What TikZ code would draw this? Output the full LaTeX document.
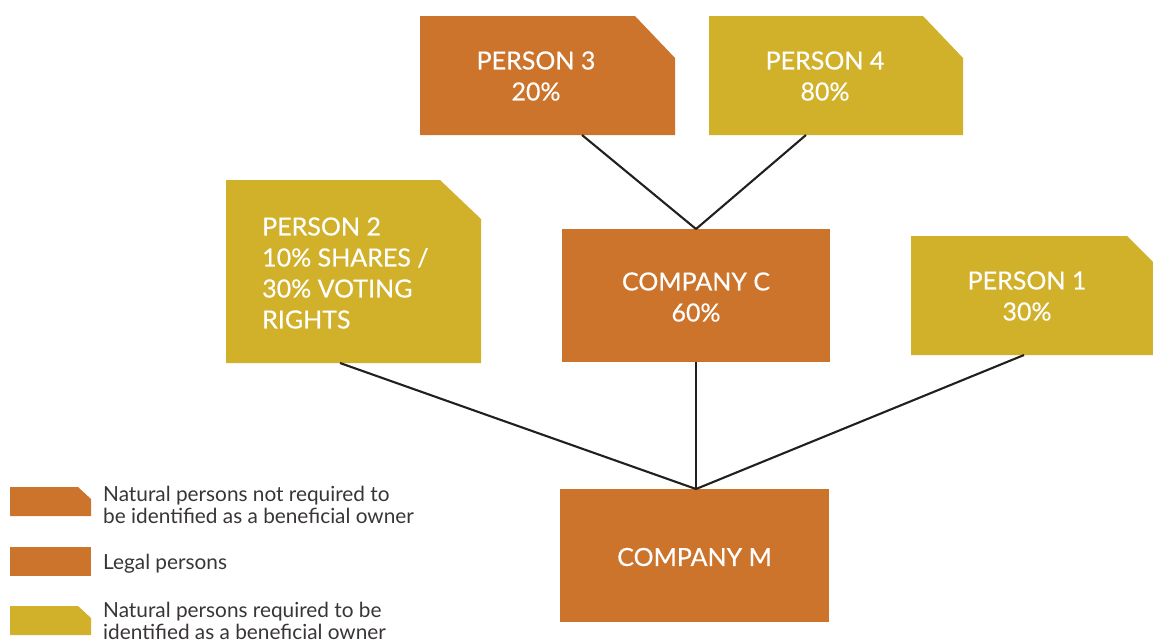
\documentclass[tikz,border=0pt]{standalone}
\usepackage{fontspec}
\setmainfont{Lato}
\newfontfamily\boxfont[FakeBold=0.4]{Lato}
\definecolor{orgc}{HTML}{CC742C}
\definecolor{ylwc}{HTML}{D1B02A}
\definecolor{linec}{HTML}{231F20}
\begin{document}
\begin{tikzpicture}[x=1pt,y=-1pt,
  shapebox/.style={draw=none,fill=none,inner sep=0pt,outer sep=0pt},
  boxtext/.style={text=white,align=center,inner sep=0pt,font=\boxfont\fontsize{25}{31}\selectfont},
  legtext/.style={text=linec!90,align=left,inner sep=0pt,anchor=base west,font=\fontsize{20.8}{22}\selectfont},
  conn/.style={draw=linec,line width=2.1pt}]
\useasboundingbox (0,0) rectangle (1153,641);
\newcommand{\chamferfill}[4]{\fill[#2] (#1.north west) -- ([xshift=-#3]#1.north east) -- ([yshift=-#4]#1.north east) -- (#1.south east) -- (#1.south west) -- cycle;}
% boxes
\node[shapebox,minimum width=255pt,minimum height=119pt] (p3) at (547.5,75.5) {};
\chamferfill{p3}{orgc}{40pt}{42pt}
\node[boxtext] (p3t) at (536,76) {PERSON 3\\20\%};
\node[shapebox,minimum width=254pt,minimum height=119pt] (p4) at (836,75.5) {};
\chamferfill{p4}{ylwc}{40pt}{42pt}
\node[boxtext] (p4t) at (825,76) {PERSON 4\\80\%};
\node[shapebox,minimum width=255pt,minimum height=183pt] (p2) at (353.5,271.5) {};
\chamferfill{p2}{ylwc}{41pt}{39pt}
\node[boxtext,align=left,anchor=west] (p2t) at (262,273) {PERSON 2\\10\% SHARES /\\30\% VOTING\\RIGHTS};
\node[shapebox,minimum width=268pt,minimum height=133pt] (cc) at (696,295.5) {};
\fill[orgc] (cc.north west) rectangle (cc.south east);
\node[boxtext] (cct) at (696,297) {COMPANY C\\60\%};
\node[shapebox,minimum width=255pt,minimum height=119pt] (p1) at (1038.5,295.5) {};
\chamferfill{p1}{ylwc}{39pt}{39pt}
\node[boxtext] (p1t) at (1027,296) {PERSON 1\\30\%};
\node[shapebox,minimum width=269pt,minimum height=133pt] (cm) at (694.5,555.5) {};
\fill[orgc] (cm.north west) rectangle (cm.south east);
\node[boxtext] (cmt) at (694.5,557) {COMPANY M};
% connectors
\draw[conn] ([xshift=34.5pt]p3.south) -- (cc.north);
\draw[conn] ([xshift=-30pt]p4.south) -- (cc.north);
\draw[conn] ([xshift=-13.5pt]p2.south) -- ([xshift=1.5pt]cm.north);
\draw[conn] (cc.south) -- ([xshift=1.5pt]cm.north);
\draw[conn] ([xshift=-14.5pt]p1.south) -- ([xshift=1.5pt]cm.north);
% legend
\node[shapebox,minimum width=81pt,minimum height=29pt] (lg1) at (50.5,501.5) {};
\chamferfill{lg1}{orgc}{13pt}{12pt}
\node[legtext] (lg1t) at (103,523) {Natural persons not required to\\be identified as a beneficial owner};
\node[shapebox,minimum width=81pt,minimum height=29pt] (lg2) at (50.5,561.5) {};
\fill[orgc] (lg2.north west) rectangle (lg2.south east);
\node[legtext] (lg2t) at (103,569) {Legal persons};
\node[shapebox,minimum width=81pt,minimum height=29pt] (lg3) at (50.5,620.5) {};
\chamferfill{lg3}{ylwc}{13pt}{12pt}
\node[legtext] (lg3t) at (103,639) {Natural persons required to be\\identified as a beneficial owner};
\end{tikzpicture}
\end{document}
